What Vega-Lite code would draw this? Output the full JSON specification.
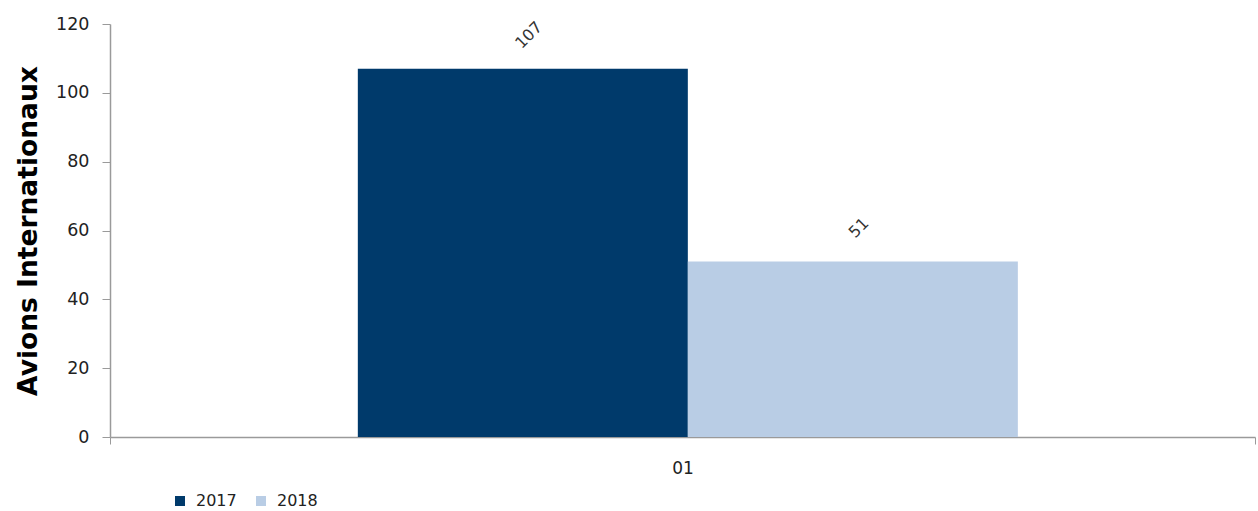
{
  "$schema": "https://vega.github.io/schema/vega-lite/v6.json",
  "width": 1145,
  "height": 413,
  "autosize": {"type": "none"},
  "padding": {"left": 110, "top": 24, "right": 3, "bottom": 74},
  "background": "white",
  "config": {"view": {"stroke": null}},
  "data": {
    "values": [
      {"mois": "01", "annee": "2017", "avions": 107},
      {"mois": "01", "annee": "2018", "avions": 51}
    ]
  },
  "encoding": {
    "x": {
      "field": "mois",
      "type": "nominal",
      "scale": {"paddingInner": 0, "paddingOuter": 0},
      "axis": {
        "title": null,
        "labelAngle": 0,
        "labelFont": "DejaVu Sans",
        "labelFontSize": 17,
        "labelColor": "#222222",
        "domainColor": "#9a9a9a",
        "domainWidth": 1.5,
        "tickColor": "#9a9a9a",
        "tickSize": 7,
        "tickBand": "extent",
        "labelPadding": 16
      }
    },
    "xOffset": {
      "field": "annee",
      "type": "nominal",
      "scale": {"paddingInner": 0, "paddingOuter": 0.7348, "align": 0.511}
    },
    "y": {
      "field": "avions",
      "type": "quantitative",
      "scale": {"domain": [0, 120], "nice": false},
      "axis": {
        "values": [0, 20, 40, 60, 80, 100, 120],
        "grid": false,
        "title": "Avions Internationaux",
        "titleFont": "DejaVu Sans",
        "titleFontWeight": "bold",
        "titleFontSize": 26.5,
        "titleColor": "#000000",
        "titlePadding": 13,
        "labelFont": "DejaVu Sans",
        "labelFontSize": 17.5,
        "labelColor": "#222222",
        "labelPadding": 13,
        "domainColor": "#9a9a9a",
        "domainWidth": 1.5,
        "tickColor": "#9a9a9a",
        "tickSize": 8
      }
    }
  },
  "layer": [
    {
      "mark": {"type": "bar"},
      "encoding": {
        "color": {
          "field": "annee",
          "type": "nominal",
          "scale": {"range": ["#003A6B", "#B9CDE5"]},
          "legend": {
            "orient": "none",
            "legendX": 62,
            "legendY": 469,
            "direction": "horizontal",
            "title": null,
            "symbolType": "square",
            "symbolSize": 100,
            "symbolStrokeWidth": 0,
            "labelFont": "DejaVu Sans",
            "labelFontSize": 16,
            "labelColor": "#222222",
            "columnPadding": 16,
            "labelOffset": 8
          }
        }
      }
    },
    {
      "mark": {
        "type": "text",
        "angle": 315,
        "radius": 34,
        "theta": 0.18,
        "align": "center",
        "baseline": "middle",
        "font": "DejaVu Sans",
        "fontSize": 16,
        "color": "#333333"
      },
      "encoding": {
        "text": {"field": "avions", "type": "quantitative"}
      }
    }
  ]
}
